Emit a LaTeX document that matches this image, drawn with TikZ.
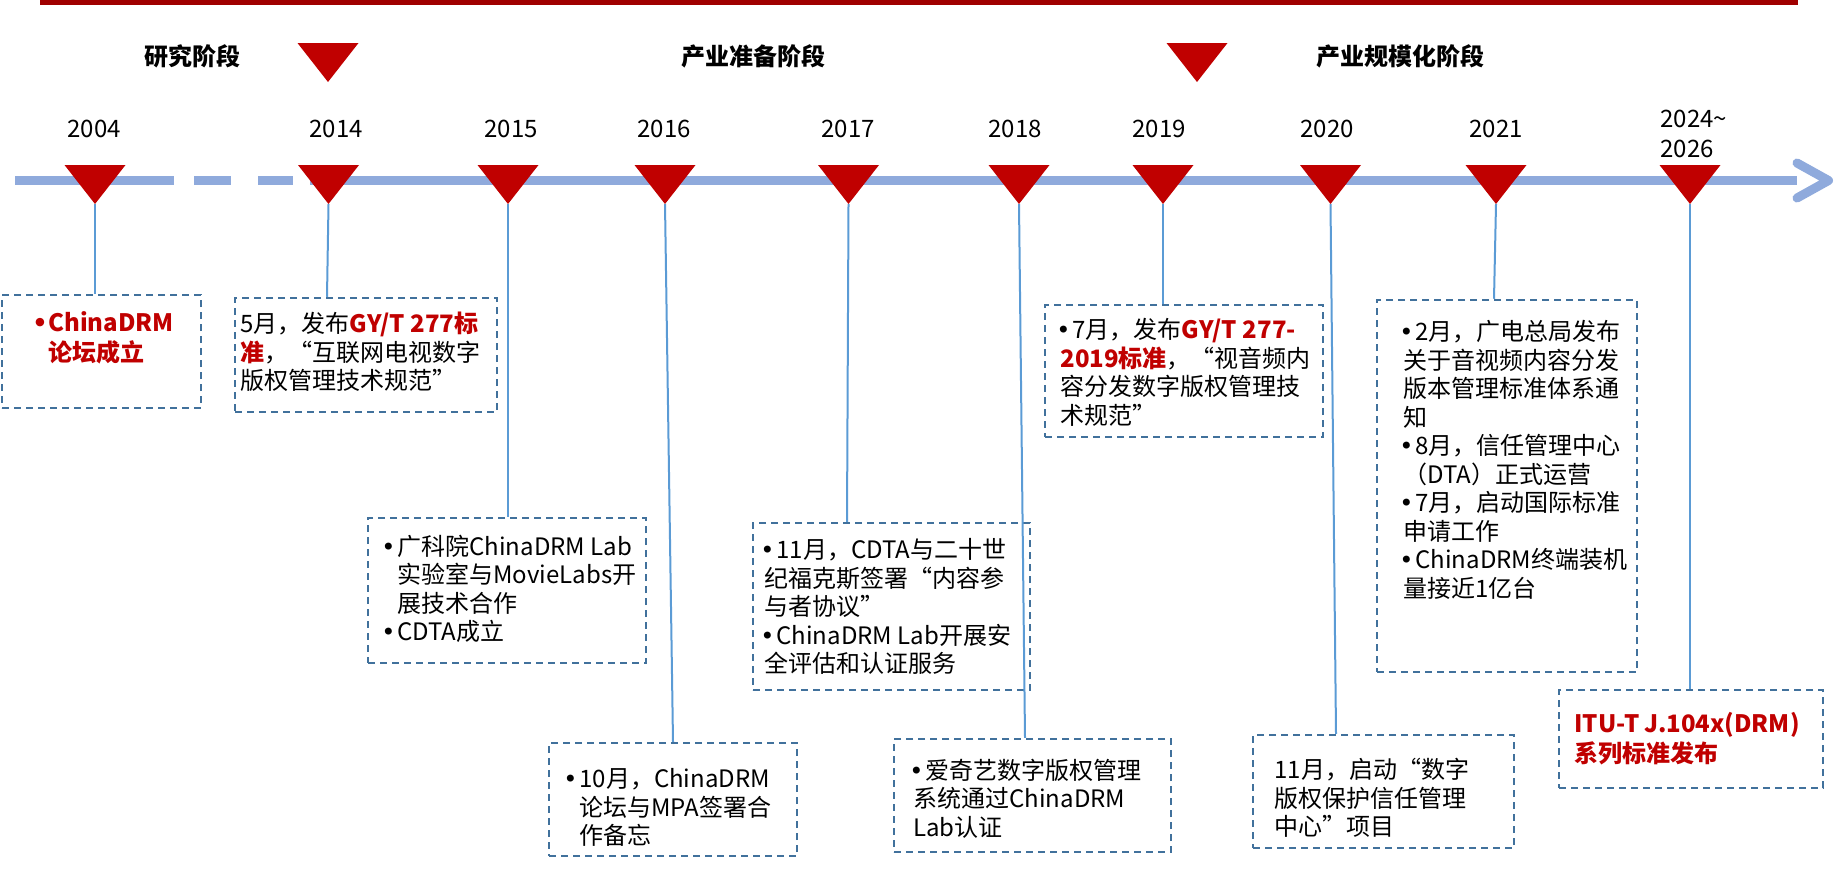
\documentclass[tikz,border=0pt]{standalone}
\usepackage{fontspec}
\setmainfont{Noto Sans CJK SC}
\newfontfamily\dejavu{DejaVu Sans}
\definecolor{dred}{HTML}{C00000}
\definecolor{barred}{HTML}{A00000}
\definecolor{axisblue}{HTML}{8FAADC}
\definecolor{linkblue}{HTML}{5B9BD5}
\definecolor{boxblue}{HTML}{41719C}
\newcommand{\bul}{\makebox[6pt][l]{\hspace*{-2pt}{\dejavu •}}}
\newcommand{\hl}[1]{{\bfseries\color{dred}#1}}
\newcommand{\redtri}[3]{\fill[dred] (#2-30.5,#3) -- (#2+30.5,#3) -- (#2,#3+39) -- cycle;
  \coordinate (#1) at (#2,#3+39);}
\tikzset{
  box/.style={draw=boxblue,line width=1.25pt,dash pattern=on 3.5pt off 2.5pt,inner sep=0pt},
  txt/.style={anchor=west,align=left,inner sep=0pt,font=\fontsize{12}{14.25}\selectfont},
  redtxt/.style={txt,text=dred,font=\fontsize{12}{15.25}\selectfont\bfseries},
  year/.style={inner sep=0pt,font=\fontsize{12}{14.75}\selectfont},
  phase/.style={inner sep=0pt,font=\fontsize{12}{14}\selectfont\bfseries},
  link/.style={draw=linkblue,line width=1pt},
  timeline/.style={draw=axisblue,line width=4.5pt}
}
\begin{document}
\begin{tikzpicture}[x=0.5pt,y=-0.5pt]
\useasboundingbox (0,0) rectangle (1835,879);
\fill[barred] (40,0) rectangle (1798,4.5);
\draw[timeline] (15,180.5) -- (174,180.5) (194,180.5) -- (231,180.5)
  (258,180.5) -- (293,180.5) (310,180.5) -- (1797,180.5);
\draw[timeline,line cap=round,line join=round] (1797,163) -- (1828.5,180.5) -- (1797,198);
\node[phase] (ph1) at (192,56) {研究阶段};
\node[phase] (ph2) at (753,56) {产业准备阶段};
\node[phase] (ph3) at (1400,56) {产业规模化阶段};
\redtri{p1}{328}{43}
\redtri{p2}{1197}{43}
\node[year] (y04) at (94,128.5) {2004};
\node[year] (y14) at (336,128.5) {2014};
\node[year] (y15) at (511,128.5) {2015};
\node[year] (y16) at (664,128.5) {2016};
\node[year] (y17) at (848,128.5) {2017};
\node[year] (y18) at (1015,128.5) {2018};
\node[year] (y19) at (1159,128.5) {2019};
\node[year] (y20) at (1327,128.5) {2020};
\node[year] (y21) at (1496,128.5) {2021};
\node[year,anchor=west,align=left] (y24) at (1660,133.75) {2024\textasciitilde\\2026};
\redtri{m04}{95}{165}
\redtri{m14}{328.5}{165}
\redtri{m15}{508}{165}
\redtri{m16}{665}{165}
\redtri{m17}{848.5}{165}
\redtri{m18}{1019}{165}
\redtri{m19}{1163}{165}
\redtri{m20}{1330.5}{165}
\redtri{m21}{1496}{165}
\redtri{m24}{1690}{165}
\node[box,minimum width=99.5pt,minimum height=56.5pt] (b04) at (101.5,351.5) {};
\node[box,minimum width=131pt,minimum height=57pt] (b14) at (366,355) {};
\node[box,minimum width=139pt,minimum height=72.5pt] (b15) at (507,590.5) {};
\node[box,minimum width=124pt,minimum height=56.5pt] (b16) at (673,799.5) {};
\node[box,minimum width=138.5pt,minimum height=83.5pt] (b17) at (891.5,606.5) {};
\node[box,minimum width=138.5pt,minimum height=56.5pt] (b18) at (1032.5,795.5) {};
\node[box,minimum width=139pt,minimum height=66pt] (b19) at (1184,371) {};
\node[box,minimum width=130.5pt,minimum height=56.5pt] (b20) at (1383.5,791.5) {};
\node[box,minimum width=130pt,minimum height=186pt] (b21) at (1507,486) {};
\node[box,minimum width=132pt,minimum height=49pt] (b24) at (1691,739) {};
\draw[link] (m04) -- (b04.north -| m04);
\draw[link] (m14) -- (b14.north -| 327,0);
\draw[link] (m15) -- (b15.north -| m15);
\draw[link] (m16) -- (b16.north);
\draw[link] (m17) -- (b17.north -| 847,0);
\draw[link] (m18) -- (b18.north -| 1025,0);
\draw[link] (m19) -- (b19.north -| m19);
\draw[link] (m20) -- (b20.north -| 1336,0);
\draw[link] (m21) -- (b21.north -| 1494,0);
\draw[link] (m24) -- (b24.north -| m24);
\node[redtxt] (t04) at (36,338) {\bul ChinaDRM\\\hspace*{6pt}论坛成立};
\node[txt] (t14) at (240,352) {5月，发布\hl{GY/T 277标}\\\hl{准}，“互联网电视数字\\版权管理技术规范”};
\node[txt] (t15) at (385,589) {\bul 广科院ChinaDRM Lab\\\hspace*{6pt}实验室与MovieLabs开\\\hspace*{6pt}展技术合作\\\bul CDTA成立};
\node[txt] (t16) at (567,807.5) {\bul 10月，ChinaDRM\\\hspace*{6pt}论坛与MPA签署合\\\hspace*{6pt}作备忘};
\node[txt] (t17) at (764,606.5) {\bul 11月，CDTA与二十世\\纪福克斯签署“内容参\\与者协议”\\\bul ChinaDRM Lab开展安\\全评估和认证服务};
\node[txt] (t18) at (913,798.5) {\bul 爱奇艺数字版权管理\\系统通过ChinaDRM\\Lab认证};
\node[txt] (t19) at (1060,372.5) {\bul 7月，发布\hl{GY/T 277-}\\\hl{2019标准}，“视音频内\\容分发数字版权管理技\\术规范”};
\node[txt] (t20) at (1274,798) {11月，启动“数字\\版权保护信任管理\\中心”项目};
\node[txt] (t21) at (1403,460) {\bul 2月，广电总局发布\\关于音视频内容分发\\版本管理标准体系通\\知\\\bul 8月，信任管理中心\\（DTA）正式运营\\\bul 7月，启动国际标准\\申请工作\\\bul ChinaDRM终端装机\\量接近1亿台};
\node[redtxt] (t24) at (1574,738.5) {ITU-T J.104x(DRM)\\系列标准发布};
\end{tikzpicture}
\end{document}
